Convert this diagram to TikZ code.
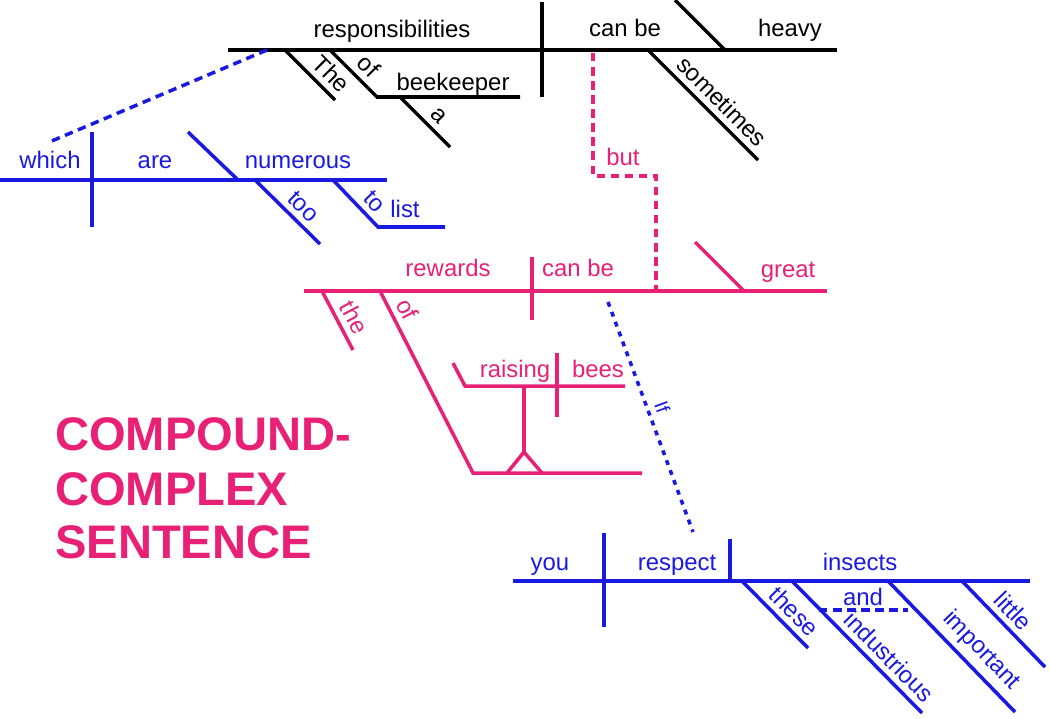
\documentclass[tikz,border=0pt]{standalone}
\usepackage{fontspec}
\setmainfont{Liberation Sans}
\definecolor{kblue}{RGB}{25,25,225}
\definecolor{kpink}{RGB}{232,32,118}

\begin{document}
\begin{tikzpicture}[x=0.025cm,y=-0.025cm,
  word/.style={font=\fontsize{17}{20}\selectfont, anchor=base, inner sep=0pt},
  tilt/.style={font=\fontsize{17}{20}\selectfont, sloped, above, inner sep=4pt},
  bar/.style={line width=2.5pt},
  dbar/.style={line width=2.5pt, dash pattern=on 6pt off 4pt},
  title/.style={font=\fontsize{33.5}{38}\selectfont\bfseries, text=kpink, anchor=base west, inner sep=0pt}]
\useasboundingbox (0,0) rectangle (1050,718);

% first clause
\coordinate (bl) at (228,50);
\coordinate (br) at (837,50);
\coordinate (bv1) at (542,2);
\coordinate (bv2) at (542,97);
\coordinate (bp1) at (675,0);
\coordinate (bp2) at (725,50);
\coordinate (bt1) at (285,50);
\coordinate (bt2) at (335,100);
\coordinate (bo1) at (330,50);
\coordinate (bo2) at (377,97);
\coordinate (bo3) at (520,97);
\coordinate (ba1) at (400,97);
\coordinate (ba2) at (450,147);
\coordinate (bs1) at (648,50);
\coordinate (bs2) at (758,160);

\node[word] (resp) at (392,37) {responsibilities};
\node[word] (canbe1) at (625,36) {can be};
\node[word] (heavy) at (790,36) {heavy};
\node[word] (beek) at (453,90) {beekeeper};

\path[draw,bar] (bl) -- (br);
\path[draw,bar] (bv1) -- (bv2);
\path[draw,bar] (bp1) -- (bp2);
\path[draw,bar] (bt1) -- node[tilt,pos=0.7] (the1) {The} (bt2);
\path[draw,bar] (bo1) -- node[tilt,pos=0.58] (of1) {of} (bo2) -- (bo3);
\path[draw,bar] (ba1) -- node[tilt,pos=0.58] (a1) {a} (ba2);
\path[draw,bar] (bs1) -- node[tilt,pos=0.57] (some) {sometimes} (bs2);

% relative clause
\coordinate (wd1) at (267,50);
\coordinate (wd2) at (47,143);
\coordinate (wl) at (0,180);
\coordinate (wr) at (387,180);
\coordinate (wv1) at (92,132);
\coordinate (wv2) at (92,227);
\coordinate (wp1) at (188,132);
\coordinate (wp2) at (238,180);
\coordinate (wt1) at (255,180);
\coordinate (wt2) at (320,244);
\coordinate (wo1) at (333,180);
\coordinate (wo2) at (378,227);
\coordinate (wo3) at (445,227);

\node[word,text=kblue] (which) at (50,168) {which};
\node[word,text=kblue] (are) at (155,168) {are};
\node[word,text=kblue] (num) at (298,168) {numerous};
\node[word,text=kblue] (list) at (405,217) {list};

\path[draw=kblue,dbar] (wd1) -- (wd2);
\path[draw=kblue,bar] (wl) -- (wr);
\path[draw=kblue,bar] (wv1) -- (wv2);
\path[draw=kblue,bar] (wp1) -- (wp2);
\path[draw=kblue,bar] (wt1) -- node[tilt,pos=0.58,text=kblue] (too) {too} (wt2);
\path[draw=kblue,bar] (wo1) -- node[tilt,pos=0.68,text=kblue] (to) {to} (wo2) -- (wo3);

% conjunction
\coordinate (k1) at (593,53);
\coordinate (k2) at (593,176);
\coordinate (k3) at (656,176);
\coordinate (k4) at (656,289);
\node[word,text=kpink] (but) at (623,165) {but};
\path[draw=kpink,dbar] (k1) -- (k2) -- (k3) -- (k4);

% second clause
\coordinate (rl) at (304,291);
\coordinate (rr) at (827,291);
\coordinate (rv1) at (532,257);
\coordinate (rv2) at (532,320);
\coordinate (rp1) at (695,242);
\coordinate (rp2) at (744,291);
\coordinate (rt1) at (322,291);
\coordinate (rt2) at (353,350);
\coordinate (ro1) at (380,291);
\coordinate (ro2) at (473,473);
\coordinate (ro3) at (642,473);
\coordinate (gs1) at (453,363);
\coordinate (gs2) at (465,386);
\coordinate (gs3) at (625,386);
\coordinate (gv1) at (557,353);
\coordinate (gv2) at (557,417);
\coordinate (gm1) at (524,386);
\coordinate (gm2) at (524,452);
\coordinate (gf1) at (507,473);
\coordinate (gf2) at (542,473);

\node[word,text=kpink] (rew) at (448,276) {rewards};
\node[word,text=kpink] (canbe2) at (578,276) {can be};
\node[word,text=kpink] (great) at (788,277) {great};
\node[word,text=kpink] (rais) at (515,377) {raising};
\node[word,text=kpink] (bees) at (598,377) {bees};

\path[draw=kpink,bar] (rl) -- (rr);
\path[draw=kpink,bar] (rv1) -- (rv2);
\path[draw=kpink,bar] (rp1) -- (rp2);
\path[draw=kpink,bar] (rt1) -- node[tilt,pos=0.58,text=kpink] (the2) {the} (rt2);
\path[draw=kpink,bar] (ro1) -- node[tilt,pos=0.14,text=kpink] (of2) {of} (ro2) -- (ro3);
\path[draw=kpink,bar] (gs1) -- (gs2) -- (gs3);
\path[draw=kpink,bar] (gv1) -- (gv2);
\path[draw=kpink,bar] (gm1) -- (gm2);
\path[draw=kpink,bar] (gf1) -- (gm2) -- (gf2);

% subordinate clause
\coordinate (if1) at (608,302);
\coordinate (if2) at (693,532);
\path[draw=kblue,line width=2.5pt,dash pattern=on 3.5pt off 4pt] (if1) -- node[tilt,pos=0.48,text=kblue,font=\fontsize{14}{16}\selectfont] (if) {If} (if2);

\coordinate (yl) at (513,581);
\coordinate (yr) at (1030,581);
\coordinate (yv1) at (604,533);
\coordinate (yv2) at (604,627);
\coordinate (yo1) at (730,539);
\coordinate (yo2) at (730,581);
\coordinate (ye1) at (742,581);
\coordinate (ye2) at (808,648);
\coordinate (yi1) at (792,581);
\coordinate (yi2) at (922,713);
\coordinate (ym1) at (888,581);
\coordinate (ym2) at (1015,712);
\coordinate (yt1) at (962,581);
\coordinate (yt2) at (1045,667);
\coordinate (yd1) at (819,610);
\coordinate (yd2) at (908,610);

\node[word,text=kblue] (you) at (550,570) {you};
\node[word,text=kblue] (resp2) at (677,570) {respect};
\node[word,text=kblue] (ins) at (860,570) {insects};
\node[word,text=kblue] (and) at (863,605) {and};

\path[draw=kblue,bar] (yl) -- (yr);
\path[draw=kblue,bar] (yv1) -- (yv2);
\path[draw=kblue,bar] (yo1) -- (yo2);
\path[draw=kblue,bar] (ye1) -- node[tilt,pos=0.62,text=kblue] (these) {these} (ye2);
\path[draw=kblue,bar] (yi1) -- node[tilt,pos=0.66,text=kblue] (indu) {industrious} (yi2);
\path[draw=kblue,bar] (ym1) -- node[tilt,pos=0.63,text=kblue] (impo) {important} (ym2);
\path[draw=kblue,bar] (yt1) -- node[tilt,pos=0.48,text=kblue] (little) {little} (yt2);
\path[draw=kblue,dbar] (yd1) -- (yd2);

% heading
\node[title] (t1) at (55,450) {COMPOUND-};
\node[title] (t2) at (55,505) {COMPLEX};
\node[title] (t3) at (55,558) {SENTENCE};
\end{tikzpicture}
\end{document}
